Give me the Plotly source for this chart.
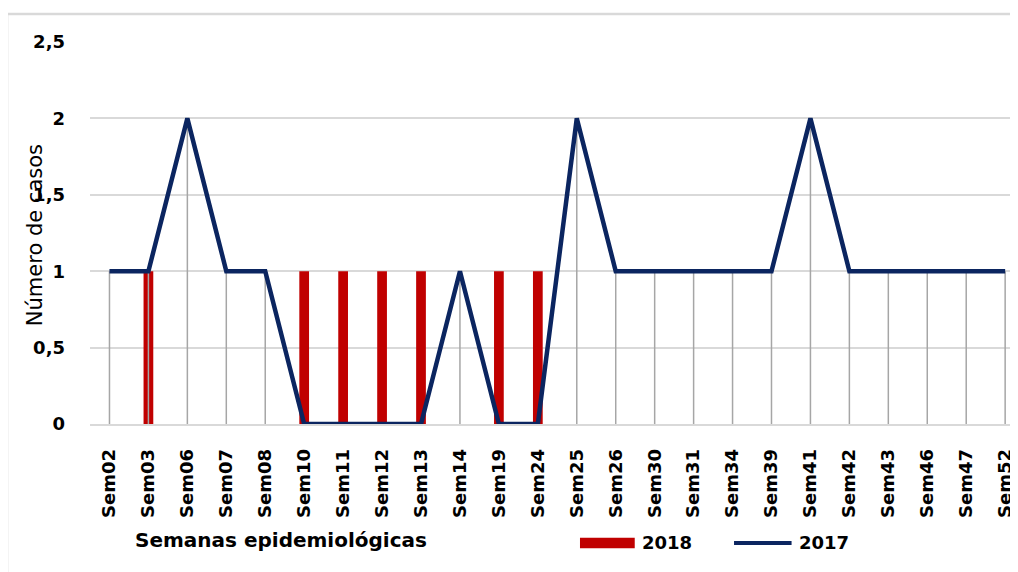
import plotly.graph_objects as go

semanas = ["Sem02", "Sem03", "Sem06", "Sem07", "Sem08", "Sem10", "Sem11", "Sem12",
           "Sem13", "Sem14", "Sem19", "Sem24", "Sem25", "Sem26", "Sem30", "Sem31",
           "Sem34", "Sem39", "Sem41", "Sem42", "Sem43", "Sem46", "Sem47", "Sem52"]
casos_2018 = [0, 1, 0, 0, 0, 1, 1, 1, 1, 0, 1, 1, 0, 0, 0, 0, 0, 0, 0, 0, 0, 0, 0, 0]
casos_2017 = [1, 1, 2, 1, 1, 0, 0, 0, 0, 1, 0, 0, 2, 1, 1, 1, 1, 1, 2, 1, 1, 1, 1, 1]
y_ticks = [0, 0.5, 1, 1.5, 2, 2.5]
y_tick_text = ["0", "0,5", "1", "1,5", "2", "2,5"]

FONT = "DejaVu Sans"
RED = "#C00000"
NAVY = "#0B2560"
GRAY = "#A6A6A6"

fig = go.Figure()

# 2018 bars
fig.add_trace(go.Bar(
    x=semanas, y=casos_2018, width=0.25, marker=dict(color=RED, line=dict(width=0)),
    name="2018", showlegend=False, cliponaxis=False))

# drop lines for the 2017 series
dx, dy = [], []
for s, v in zip(semanas, casos_2017):
    if v > 0:
        dx += [s, s, None]
        dy += [0, v, None]
fig.add_trace(go.Scatter(x=dx, y=dy, mode="lines", line=dict(color=GRAY, width=1.5),
                         showlegend=False, hoverinfo="skip", cliponaxis=False))

# 2017 line
fig.add_trace(go.Scatter(x=semanas, y=casos_2017, mode="lines", name="2017",
                         line=dict(color=NAVY, width=4.5), cliponaxis=False,
                         showlegend=False))

fig.update_layout(
    width=1010, height=564,
    margin=dict(l=82, r=0, t=34, b=148),
    paper_bgcolor="white", plot_bgcolor="white",
    barmode="overlay",
    font=dict(family=FONT, color="#000000"),
    showlegend=False,
    xaxis=dict(type="category", range=[-0.5, 23.33], showgrid=False,
               tickangle=-90, ticklabelstandoff=16,
               tickfont=dict(family=FONT, size=18, color="#000000", weight="bold"),
               showline=True, linecolor="#D9D9D9", linewidth=1.5, ticks=""),
    yaxis=dict(range=[0, 2.5], tickvals=y_ticks, ticktext=y_tick_text,
               showgrid=True, gridcolor="#D9D9D9", gridwidth=1.5, zeroline=False,
               ticklabelstandoff=24,
               tickfont=dict(family=FONT, size=18, color="#000000", weight="bold")),
    annotations=[
        dict(text="Número de casos", textangle=-90, xref="paper", yref="paper",
             x=-0.059, y=0.495, xanchor="center", yanchor="middle", showarrow=False,
             font=dict(family=FONT, size=21, color="#000000")),
        dict(text="Semanas epidemiológicas", xref="paper", yref="paper",
             x=0.046, y=-0.304, xanchor="left", yanchor="middle", showarrow=False,
             font=dict(family=FONT, size=20, color="#000000", weight="bold")),
        dict(text="2018", xref="paper", yref="paper", x=0.593, y=-0.3115,
             xanchor="left", yanchor="middle", showarrow=False,
             font=dict(family=FONT, size=18, color="#000000", weight="bold")),
        dict(text="2017", xref="paper", yref="paper", x=0.762, y=-0.3115,
             xanchor="left", yanchor="middle", showarrow=False,
             font=dict(family=FONT, size=18, color="#000000", weight="bold")),
    ],
    shapes=[
        dict(type="rect", xref="paper", yref="paper", x0=-0.0894, x1=1.2,
             y0=-0.42, y1=1.073, line=dict(color="#D9D9D9", width=2.5),
             fillcolor="rgba(0,0,0,0)", layer="below"),
        dict(type="rect", xref="paper", yref="paper", x0=0.528, x1=0.587,
             y0=-0.325, y1=-0.298, line=dict(width=0), fillcolor=RED),
        dict(type="line", xref="paper", yref="paper", x0=0.694, x1=0.756,
             y0=-0.3115, y1=-0.3115, line=dict(color=NAVY, width=4)),
    ],
)

fig.write_html("out.html")
